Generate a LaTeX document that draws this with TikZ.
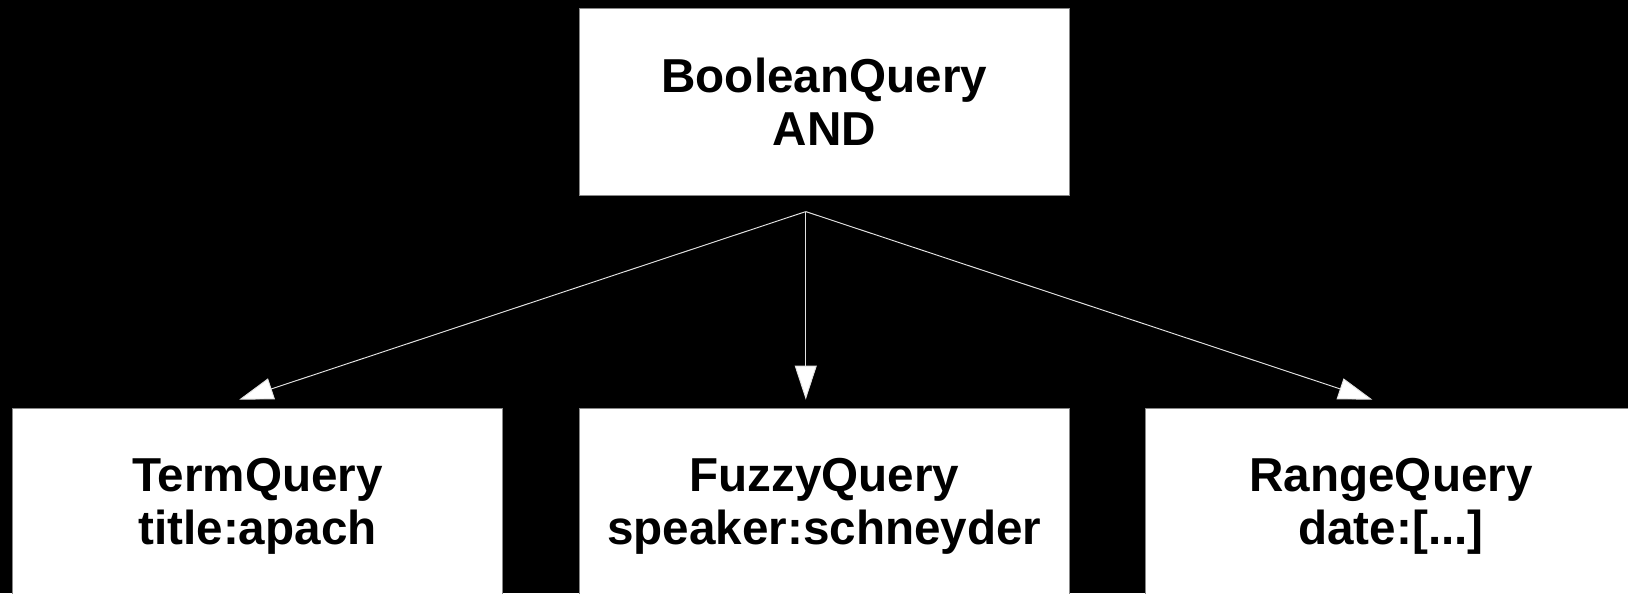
\documentclass[tikz,border=0pt]{standalone}
\usepackage{fontspec}
\setmainfont{Liberation Sans}
\usetikzlibrary{arrows.meta, positioning, calc}
\definecolor{boxborder}{RGB}{136,136,136}
\definecolor{linkgray}{RGB}{225,225,225}

\begin{document}
\begin{tikzpicture}[
    query_box/.style={draw=boxborder, line width=0.5pt, fill=white, minimum width=9.81cm, minimum height=3.74cm, inner sep=0pt, align=center, font=\fontsize{27.1pt}{30.2pt}\selectfont\bfseries},
    sub_box/.style={query_box, minimum height=3.95cm},
    link/.style={draw=linkgray, line width=0.55pt, -{Triangle[length=0.68cm, width=0.44cm, fill=white]}}
]

    % Background
    \fill[black] (0,0) rectangle (32.56,-11.86);
    \useasboundingbox (0,0) rectangle (32.56,-11.86);

    % Top query
    \node[query_box] (bool_query) at (16.485,-2.033) {BooleanQuery\\AND};

    % Sub queries
    \node[sub_box] (term_query) at (5.15,-10.135) {TermQuery\\title:apach};
    \node[sub_box] (fuzzy_query) at (16.485,-10.135) {FuzzyQuery\\speaker:schneyder};
    \node[sub_box] (range_query) at (27.82,-10.135) {RangeQuery\\date:[...]};

    % Fork point below the top query
    \coordinate (fork) at ([xshift=-0.37cm, yshift=-0.32cm]bool_query.south);

    % Links
    \draw[link] (fork) -- ([xshift=-0.365cm, yshift=0.16cm]term_query.north);
    \draw[link] (fork) -- ([xshift=-0.37cm, yshift=0.16cm]fuzzy_query.north);
    \draw[link] (fork) -- ([xshift=-0.375cm, yshift=0.16cm]range_query.north);

\end{tikzpicture}
\end{document}
